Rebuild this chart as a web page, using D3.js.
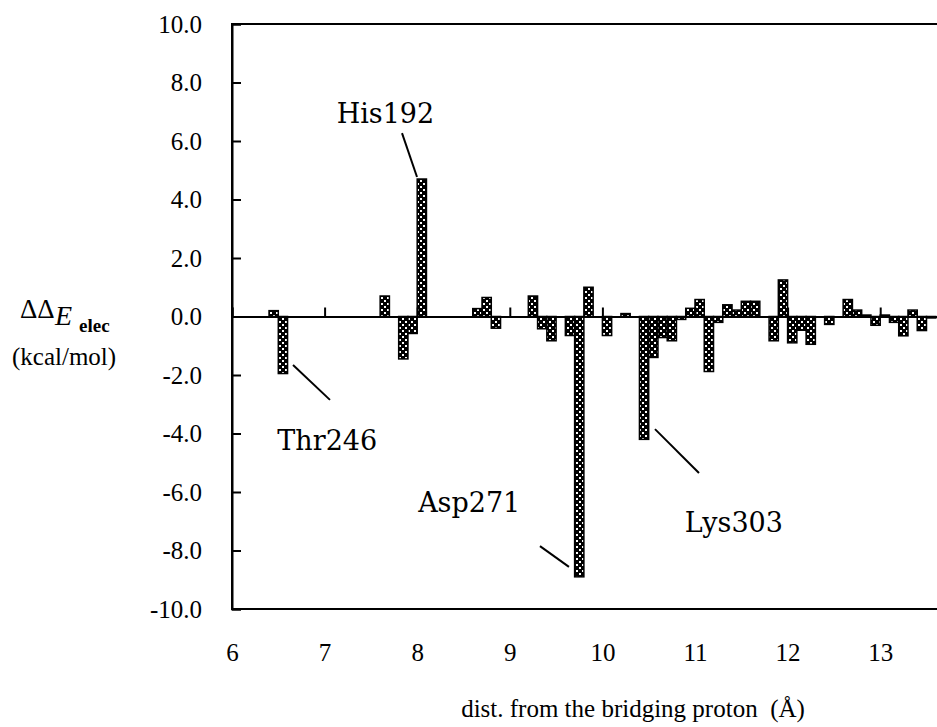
<!DOCTYPE html>
<html>
<head>
<meta charset="utf-8">
<script src="https://cdn.jsdelivr.net/npm/d3@7"></script>
<style>
  html, body { margin: 0; padding: 0; background: #fff; }
  svg { display: block; }
  text { fill: #000; }
</style>
</head>
<body>
<svg id="chart" width="937" height="727"></svg>
<script>
// Distance bins (Å, bin start, 0.1 Å wide) and the electrostatic energy change per bin (kcal/mol)
const binStarts = [
  6.4, 6.5, 7.6, 7.8, 7.9, 8.0, 8.6, 8.7, 8.8, 9.2, 9.3, 9.4, 9.6, 9.7, 9.8,
  10.0, 10.2, 10.4, 10.5, 10.6, 10.7, 10.8, 10.9, 11.0, 11.1, 11.2, 11.3, 11.4,
  11.5, 11.6, 11.8, 11.9, 12.0, 12.1, 12.2, 12.4, 12.6, 12.7, 12.8, 12.9, 13.0,
  13.1, 13.2, 13.3, 13.4, 13.5
];
const deltaE = [
  0.2, -1.95, 0.7, -1.45, -0.58, 4.7, 0.27, 0.65, -0.4, 0.7, -0.42, -0.83, -0.65, -8.9, 1.0,
  -0.65, 0.1, -4.2, -1.4, -0.72, -0.83, -0.1, 0.28, 0.58, -1.88, -0.2, 0.4, 0.22,
  0.52, 0.52, -0.83, 1.25, -0.9, -0.47, -0.95, -0.27, 0.58, 0.22, 0.05, -0.3, 0.05,
  -0.2, -0.66, 0.22, -0.48, -0.05
];
const binWidth = 0.1;

const yTickValues = [-10, -8, -6, -4, -2, 0, 2, 4, 6, 8, 10];
const yTickLabels = ["-10.0", "-8.0", "-6.0", "-4.0", "-2.0", "0.0", "2.0", "4.0", "6.0", "8.0", "10.0"];
const xTickValues = [6, 7, 8, 9, 10, 11, 12, 13];

// Residue callouts: name, text position (left edge, baseline) and leader line ends, in data units
const calloutNames = ["His192", "Thr246", "Asp271", "Lys303"];
const calloutText  = [[7.13, 6.62], [6.49, -4.56], [8.01, -6.68], [10.89, -7.37]];
const calloutLine  = [[[7.836, 6.27], [7.998, 4.77]], [[6.659, -1.66], [7.058, -2.85]],
                      [[9.326, -7.85], [9.639, -8.56]], [[10.568, -3.85], [11.043, -5.35]]];

const svg = d3.select("#chart");
const margin = { left: 232, top: 24 };
const plotH = 585;
const pxPerUnit = 92.6;

const x = d3.scaleLinear().domain([6, 14]).range([margin.left, margin.left + 8 * pxPerUnit]);
const y = d3.scaleLinear().domain([-10, 10]).range([margin.top + plotH, margin.top]);

// Checkerboard fill used by the bars
const defs = svg.append("defs");
const pat = defs.append("pattern")
  .attr("id", "checker")
  .attr("patternUnits", "userSpaceOnUse")
  .attr("width", 6).attr("height", 6);
pat.append("rect").attr("width", 6).attr("height", 6).attr("fill", "#000");
pat.append("rect").attr("x", 0).attr("y", 0).attr("width", 2).attr("height", 2).attr("fill", "#fff");
pat.append("rect").attr("x", 3).attr("y", 3).attr("width", 2).attr("height", 2).attr("fill", "#fff");

const serif = "'Liberation Serif', 'Times New Roman', serif";

// Frame around the plot area
svg.append("rect")
  .attr("x", x(6)).attr("y", y(10))
  .attr("width", x(14) - x(6)).attr("height", y(-10) - y(10))
  .attr("fill", "none").attr("stroke", "#000").attr("stroke-width", 2);

// Bars
const bars = binStarts.map((b, i) => ({ b, v: deltaE[i] }));
svg.append("g").selectAll("rect")
  .data(bars)
  .join("rect")
  .attr("x", d => x(d.b))
  .attr("width", d => x(d.b + binWidth) - x(d.b))
  .attr("y", d => y(Math.max(0, d.v)))
  .attr("height", d => Math.abs(y(d.v) - y(0)))
  .attr("fill", "url(#checker)")
  .attr("stroke", "#000")
  .attr("stroke-width", 1.5);

// Y axis: inward ticks, labels on the left
const yAxis = d3.axisLeft(y)
  .tickValues(yTickValues)
  .tickSize(-9)
  .tickPadding(30)
  .tickFormat((d, i) => yTickLabels[i]);
const gy = svg.append("g").attr("transform", `translate(${x(6)},0)`).call(yAxis);
gy.select(".domain").attr("stroke-width", 2);
gy.selectAll(".tick line").attr("stroke-width", 2);
gy.selectAll(".tick text")
  .style("font-family", serif).style("font-size", "25px").attr("fill", "#000");

// Zero line with upward ticks at each integer distance
const xAxisZero = d3.axisTop(x)
  .tickValues(xTickValues)
  .tickSize(9)
  .tickFormat("");
const gz = svg.append("g").attr("transform", `translate(0,${y(0)})`).call(xAxisZero);
gz.select(".domain").attr("stroke-width", 2);
gz.selectAll(".tick line").attr("stroke-width", 2);

// Distance labels under the plot
const xAxisLabels = d3.axisBottom(x)
  .tickValues(xTickValues)
  .tickSize(0)
  .tickPadding(34)
  .tickFormat(d3.format("d"));
const gx = svg.append("g").attr("transform", `translate(0,${y(-10)})`).call(xAxisLabels);
gx.select(".domain").remove();
gx.selectAll(".tick text")
  .style("font-family", serif).style("font-size", "25px").attr("fill", "#000");

// Callouts
const calloutFont = "'DejaVu Serif', serif";
calloutNames.forEach((name, i) => {
  const [p0, p1] = calloutLine[i];
  svg.append("line")
    .attr("x1", x(p0[0])).attr("y1", y(p0[1]))
    .attr("x2", x(p1[0])).attr("y2", y(p1[1]))
    .attr("stroke", "#000").attr("stroke-width", 2);
  svg.append("text")
    .attr("x", x(calloutText[i][0])).attr("y", y(calloutText[i][1]))
    .attr("text-anchor", "start")
    .style("font-family", calloutFont).style("font-size", "27px")
    .text(name);
});

// Axis titles
const yt = svg.append("g").style("font-family", serif);
yt.append("text").attr("x", 20).attr("y", 318)
  .style("font-size", "27px").text("ΔΔ");
yt.append("text").attr("x", 55).attr("y", 325)
  .style("font-size", "28px").style("font-style", "italic").text("E");
yt.append("text").attr("x", 79).attr("y", 332)
  .style("font-size", "19px").style("font-weight", "bold").text("elec");
yt.append("text").attr("x", 12).attr("y", 365)
  .style("font-size", "25px").text("(kcal/mol)");

svg.append("text")
  .attr("x", 633).attr("y", 717)
  .attr("text-anchor", "middle")
  .style("font-family", serif).style("font-size", "25px")
  .style("white-space", "pre")
  .text("dist. from the bridging proton  (Å)");
</script>
</body>
</html>
